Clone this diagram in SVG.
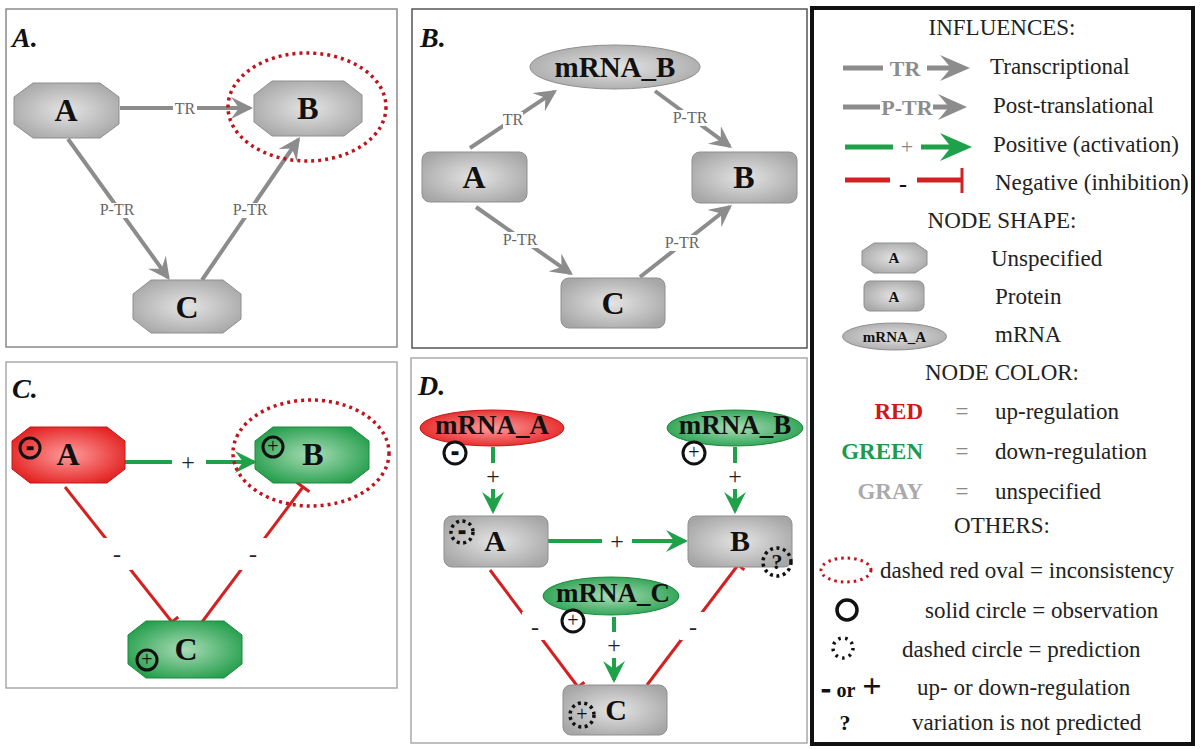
<svg xmlns="http://www.w3.org/2000/svg" width="1200" height="749" viewBox="0 0 1200 749">
<defs>
<radialGradient id="gGray" cx="50%" cy="50%" r="60%"><stop offset="0" stop-color="#e4e4e4"/><stop offset="1" stop-color="#a6a6a6"/></radialGradient>
<radialGradient id="gRed" cx="50%" cy="50%" r="60%"><stop offset="0" stop-color="#ff9c9c"/><stop offset="1" stop-color="#e21c1c"/></radialGradient>
<radialGradient id="gGreen" cx="50%" cy="50%" r="60%"><stop offset="0" stop-color="#a9dcb6"/><stop offset="1" stop-color="#1f9c48"/></radialGradient>
<marker id="arrGray" markerUnits="userSpaceOnUse" viewBox="0 0 22 22" markerWidth="22" markerHeight="22" refX="19" refY="11" orient="auto"><path d="M0,0 L22,11 L0,22 L8,11 z" fill="#8c8c8c"/></marker>
<marker id="arrGreen" markerUnits="userSpaceOnUse" viewBox="0 0 22 22" markerWidth="22" markerHeight="22" refX="19" refY="11" orient="auto"><path d="M0,0 L22,11 L0,22 L8,11 z" fill="#1fa14a"/></marker>
<marker id="bar" markerUnits="userSpaceOnUse" viewBox="-2 -9 4 18" markerWidth="4" markerHeight="18" refX="0" refY="0" orient="auto"><path d="M0,-8 L0,8" stroke="#d42020" stroke-width="3"/></marker>
<style>
.frame{fill:#fff;stroke:#8a8a8a;stroke-width:1.5}
.title{font-family:"Liberation Serif","Times New Roman",serif;font-weight:bold;font-style:italic;font-size:28px;fill:#111}
.nt{font-family:"Liberation Serif","Times New Roman",serif;font-weight:bold;font-size:32px;fill:#111;text-anchor:middle}
.mt{font-family:"Liberation Serif","Times New Roman",serif;font-weight:bold;font-size:27px;fill:#111;text-anchor:middle}
.ngray{fill:url(#gGray);stroke:#8f8f8f;stroke-width:1}
.nred{fill:url(#gRed);stroke:#c41a1a;stroke-width:1}
.ngreen{fill:url(#gGreen);stroke:#1b8a3e;stroke-width:1}
.eg{fill:none;stroke:#8c8c8c;stroke-width:4;marker-end:url(#arrGray)}
.egr{fill:none;stroke:#1fa14a;stroke-width:4;marker-end:url(#arrGreen)}
.er{fill:none;stroke:#d42020;stroke-width:3;marker-end:url(#bar)}
.el{font-family:"Liberation Serif","Times New Roman",serif;font-size:16px;fill:#666;text-anchor:middle}
.sl{font-family:"Liberation Serif","Times New Roman",serif;font-size:24px;fill:#222;text-anchor:middle}
.bg{fill:#fff}
.incons{fill:none;stroke:#c0141c;stroke-width:3.5;stroke-dasharray:3 4}
.obs{fill:none;stroke:#111;stroke-width:3}
.pred{fill:none;stroke:#111;stroke-width:3.5;stroke-dasharray:3 3.5}
.sg{font-family:"Liberation Serif","Times New Roman",serif;font-size:20px;fill:#111;text-anchor:middle}
.sgb{font-family:"Liberation Serif","Times New Roman",serif;font-size:18px;font-weight:bold;fill:#111;text-anchor:middle;stroke:#111;stroke-width:2.2}
.lt{font-family:"Liberation Serif","Times New Roman",serif;font-size:23px;fill:#222}
.lh{font-family:"Liberation Serif","Times New Roman",serif;font-size:23px;fill:#222;text-anchor:middle}
</style>
</defs>
<rect width="1200" height="749" fill="#fff"/>

<!-- Panel frames -->
<rect class="frame" x="6" y="9" width="391" height="338"/>
<rect class="frame" x="412" y="9" width="395" height="339" style="stroke:#555"/>
<rect class="frame" x="6" y="362" width="391" height="326" style="stroke:#aaa"/>
<rect class="frame" x="411" y="358" width="396" height="385" style="stroke:#aaa"/>

<text class="title" x="12" y="47">A.</text>
<text class="title" x="420" y="47">B.</text>
<text class="title" x="12" y="398">C.</text>
<text class="title" x="418" y="395">D.</text>

<!-- Connectors -->
<g id="connectors">
  <!-- Panel A -->
  <path class="eg" d="M120,108 L250,108"/>
  <path class="eg" d="M68,139 L168,277.6"/>
  <path class="eg" d="M202,280 L298.3,139.5"/>
  <rect class="bg" x="173" y="100" width="24" height="16"/>
  <text class="el" x="185" y="114">TR</text>
  <rect class="bg" x="99" y="203" width="37" height="15"/>
  <text class="el" x="117" y="215">P-TR</text>
  <rect class="bg" x="232" y="203" width="37" height="15"/>
  <text class="el" x="250" y="215">P-TR</text>
  <!-- Panel B -->
  <path class="eg" d="M470,148 L554.5,91.7"/>
  <path class="eg" d="M655,91 L729.6,146.2"/>
  <path class="eg" d="M476,207 L570.5,273.3"/>
  <path class="eg" d="M640,277 L729.6,206.8"/>
  <rect class="bg" x="503" y="112" width="20" height="16"/>
  <text class="el" x="513" y="125">TR</text>
  <rect class="bg" x="672" y="110" width="37" height="16"/>
  <text class="el" x="690" y="123">P-TR</text>
  <rect class="bg" x="502" y="232" width="37" height="16"/>
  <text class="el" x="520" y="245">P-TR</text>
  <rect class="bg" x="664" y="235" width="37" height="16"/>
  <text class="el" x="682" y="248">P-TR</text>
  <!-- Panel C -->
  <path class="egr" d="M125,462 L254,462"/>
  <path class="er" d="M65,487 L172,622"/>
  <path class="er" d="M202,622 L303,487"/>
  <rect class="bg" x="172" y="448" width="34" height="28"/>
  <text class="sl" x="188" y="470">+</text>
  <rect class="bg" x="100" y="538" width="32" height="32"/>
  <text class="sl" x="117" y="562">-</text>
  <rect class="bg" x="236" y="538" width="32" height="32"/>
  <text class="sl" x="253" y="562">-</text>
  <!-- Panel D -->
  <path class="egr" d="M493,447 L493,511"/>
  <path class="egr" d="M735,447 L735,511"/>
  <path class="egr" d="M548,541 L685,541"/>
  <path class="egr" d="M614,617 L614,680"/>
  <path class="er" d="M490,570 L578,687"/>
  <path class="er" d="M647,685 L738,565"/>
  <rect class="bg" x="482" y="463" width="22" height="26"/>
  <text class="sl" x="493" y="484">+</text>
  <rect class="bg" x="724" y="463" width="22" height="26"/>
  <text class="sl" x="735" y="484">+</text>
  <rect class="bg" x="602" y="529" width="30" height="24"/>
  <text class="sl" x="617" y="549">+</text>
  <rect class="bg" x="603" y="632" width="22" height="26"/>
  <text class="sl" x="614" y="653">+</text>
  <rect class="bg" x="522" y="612" width="26" height="28"/>
  <text class="sl" x="535" y="635">-</text>
  <rect class="bg" x="680" y="612" width="26" height="28"/>
  <text class="sl" x="693" y="635">-</text>
</g>

<!-- Panel A nodes -->
<g id="a-A"><polygon class="ngray" points="33,83 100,83 119,97 119,124 100,138 33,138 14,124 14,97"/><text class="nt" x="66" y="121">A</text></g>
<g id="a-B"><polygon class="ngray" points="272,81 344,81 362,95 362,122 344,136 272,136 254,122 254,95"/><text class="nt" x="308" y="119">B</text></g>
<g id="a-C"><polygon class="ngray" points="151,280 223,280 241,294 241,319 223,333 151,333 133,319 133,294"/><text class="nt" x="187" y="318">C</text></g>
<g id="a-incons"><ellipse class="incons" cx="307" cy="107" rx="79" ry="54"/></g>

<!-- Panel B nodes -->
<g id="b-mRNA_B"><ellipse class="ngray" cx="615" cy="67" rx="85" ry="22"/><text class="mt" x="615" y="77" style="font-size:29px">mRNA_B</text></g>
<g id="b-A"><rect class="ngray" x="422" y="152" width="105" height="50" rx="8"/><text class="nt" x="474" y="188">A</text></g>
<g id="b-B"><rect class="ngray" x="692" y="152" width="105" height="51" rx="8"/><text class="nt" x="744" y="188">B</text></g>
<g id="b-C"><rect class="ngray" x="561" y="278" width="104" height="50" rx="8"/><text class="nt" x="613" y="314">C</text></g>

<!-- Panel C nodes -->
<g id="c-A"><polygon class="nred" points="30,427 107,427 125,441 125,469 107,483 30,483 12,469 12,441"/><text class="nt" x="68" y="465">A</text>
  <circle class="obs" cx="30" cy="448" r="10"/><text class="sgb" x="30" y="452.5">-</text></g>
<g id="c-B"><polygon class="ngreen" points="273,427 351,427 369,441 369,469 351,483 273,483 255,469 255,441"/><text class="nt" x="313" y="465">B</text>
  <circle class="obs" cx="273" cy="447" r="10"/><text class="sg" x="273" y="453">+</text></g>
<g id="c-C"><polygon class="ngreen" points="146,621 224,621 242,635 242,664 224,678 146,678 128,664 128,635"/><text class="nt" x="186" y="660">C</text>
  <circle class="obs" cx="147" cy="660" r="10"/><text class="sg" x="147" y="666">+</text></g>
<g id="c-incons"><ellipse class="incons" cx="311" cy="453" rx="78" ry="53"/></g>

<!-- Panel D nodes -->
<g id="d-mRNA_A"><ellipse class="nred" cx="492" cy="428" rx="72" ry="18"/><text class="mt" x="492" y="434">mRNA_A</text>
  <circle class="obs" cx="455" cy="453" r="11" style="fill:#fff"/><text class="sgb" x="455" y="457.5">-</text></g>
<g id="d-mRNA_B"><ellipse class="ngreen" cx="735" cy="428" rx="68" ry="18"/><text class="mt" x="735" y="434">mRNA_B</text>
  <circle class="obs" cx="694" cy="453" r="11" style="fill:#fff"/><text class="sg" x="694" y="459">+</text></g>
<g id="d-mRNA_C"><ellipse class="ngreen" cx="611" cy="596" rx="68" ry="19"/><text class="mt" x="613" y="602">mRNA_C</text>
  <circle class="obs" cx="573" cy="621" r="11" style="fill:#fff"/><text class="sg" x="573" y="627">+</text></g>
<g id="d-A"><rect class="ngray" x="444" y="516" width="104" height="51" rx="8"/><text class="nt" x="495" y="551" style="font-size:30px">A</text>
  <circle class="pred" cx="462" cy="532" r="11"/><text class="sgb" x="462" y="536.5">-</text></g>
<g id="d-B"><rect class="ngray" x="688" y="516" width="104" height="51" rx="8"/><text class="nt" x="740" y="551" style="font-size:30px">B</text>
  <circle class="pred" cx="777" cy="562" r="14"/><text class="sg" x="777" y="569" style="font-weight:bold;font-size:22px">?</text></g>
<g id="d-C"><rect class="ngray" x="563" y="685" width="104" height="50" rx="8"/><text class="nt" x="616" y="720" style="font-size:30px">C</text>
  <circle class="pred" cx="582" cy="715" r="12"/><text class="sg" x="582" y="721">+</text></g>

<!-- Legend -->
<g id="legend">
  <rect x="812" y="8" width="381" height="736" fill="#fff" stroke="#111" stroke-width="4"/>
  <text class="lh" x="1002" y="35">INFLUENCES:</text>
  <path d="M843,68 L883,68 M927,68 L955,68" stroke="#8c8c8c" stroke-width="5"/>
  <polygon points="940,55 970,68 940,81 951,68" fill="#8c8c8c"/>
  <text x="905" y="76" font-family="Liberation Serif, Times New Roman, serif" font-size="22" font-weight="bold" fill="#8c8c8c" text-anchor="middle">TR</text>
  <text class="lt" x="990" y="74">Transcriptional</text>
  <path d="M843,107 L880,107 M933,107 L952,107" stroke="#8c8c8c" stroke-width="5"/>
  <polygon points="938,94 967,107 938,120 949,107" fill="#8c8c8c"/>
  <text x="907" y="115" font-family="Liberation Serif, Times New Roman, serif" font-size="22" font-weight="bold" fill="#8c8c8c" text-anchor="middle">P-TR</text>
  <text class="lt" x="993" y="113">Post-translational</text>
  <path d="M845,147 L893,147 M921,147 L955,147" stroke="#1fa14a" stroke-width="5"/>
  <polygon points="940,133 972,147 940,161 951,147" fill="#1fa14a"/>
  <text x="907" y="154" font-family="Liberation Serif, Times New Roman, serif" font-size="22" fill="#888" text-anchor="middle">+</text>
  <text class="lt" x="993" y="152">Positive (activation)</text>
  <path d="M845,180 L890,180 M917,180 L962,180" stroke="#d42020" stroke-width="5"/>
  <path d="M962,168 L962,193" stroke="#d42020" stroke-width="3"/>
  <text x="903" y="192" font-family="Liberation Serif, Times New Roman, serif" font-size="24" font-weight="bold" fill="#111" text-anchor="middle">-</text>
  <text class="lt" x="995" y="190">Negative (inhibition)</text>
  <text class="lh" x="1002" y="228">NODE SHAPE:</text>
  <polygon class="ngray" points="874,243 915,243 927,251 927,265 915,273 874,273 862,265 862,251"/>
  <text x="894" y="263" font-family="Liberation Serif, Times New Roman, serif" font-size="15" font-weight="bold" fill="#111" text-anchor="middle">A</text>
  <text class="lt" x="991" y="266">Unspecified</text>
  <rect class="ngray" x="864" y="281" width="60" height="30" rx="6"/>
  <text x="894" y="302" font-family="Liberation Serif, Times New Roman, serif" font-size="15" font-weight="bold" fill="#111" text-anchor="middle">A</text>
  <text class="lt" x="995" y="304">Protein</text>
  <ellipse class="ngray" cx="894.5" cy="336.5" rx="52" ry="13.5"/>
  <text x="894.5" y="342" font-family="Liberation Serif, Times New Roman, serif" font-size="15" font-weight="bold" fill="#111" text-anchor="middle">mRNA_A</text>
  <text class="lt" x="995" y="342">mRNA</text>
  <text class="lh" x="1002" y="380">NODE COLOR:</text>
  <text x="923" y="419" font-family="Liberation Serif, Times New Roman, serif" font-size="23" font-weight="bold" fill="#d01818" text-anchor="end">RED</text>
  <text class="lh" x="962" y="419" style="fill:#888">=</text>
  <text class="lt" x="995" y="419">up-regulation</text>
  <text x="923" y="459" font-family="Liberation Serif, Times New Roman, serif" font-size="23" font-weight="bold" fill="#1e9a4a" text-anchor="end">GREEN</text>
  <text class="lh" x="962" y="459" style="fill:#888">=</text>
  <text class="lt" x="995" y="459">down-regulation</text>
  <text x="923" y="499" font-family="Liberation Serif, Times New Roman, serif" font-size="23" font-weight="bold" fill="#aaa" text-anchor="end">GRAY</text>
  <text class="lh" x="962" y="499" style="fill:#888">=</text>
  <text class="lt" x="995" y="499">unspecified</text>
  <text class="lh" x="1002" y="533">OTHERS:</text>
  <ellipse class="incons" cx="846" cy="570" rx="25" ry="12" style="stroke-width:3;stroke-dasharray:2.5 4"/>
  <text class="lt" x="880" y="578">dashed red oval = inconsistency</text>
  <circle class="obs" cx="847" cy="610" r="10" style="stroke-width:3.5"/>
  <text class="lt" x="925" y="618">solid circle = observation</text>
  <circle class="pred" cx="843" cy="648" r="10" style="stroke-dasharray:2.5 4.5"/>
  <text class="lt" x="902" y="657">dashed circle = prediction</text>
  <text x="826" y="697" font-family="Liberation Serif, Times New Roman, serif" font-size="28" font-weight="bold" fill="#111" text-anchor="middle" stroke="#111" stroke-width="1.2">-</text>
  <text x="846" y="697" font-family="Liberation Serif, Times New Roman, serif" font-size="20" font-weight="bold" fill="#111" text-anchor="middle">or</text>
  <text x="872" y="697" font-family="Liberation Serif, Times New Roman, serif" font-size="34" font-weight="bold" fill="#111" text-anchor="middle">+</text>
  <text class="lt" x="917" y="695">up- or down-regulation</text>
  <text x="845" y="730" font-family="Liberation Serif, Times New Roman, serif" font-size="22" font-weight="bold" fill="#111" text-anchor="middle">?</text>
  <text class="lt" x="912" y="730">variation is not predicted</text>
</g>
</svg>
